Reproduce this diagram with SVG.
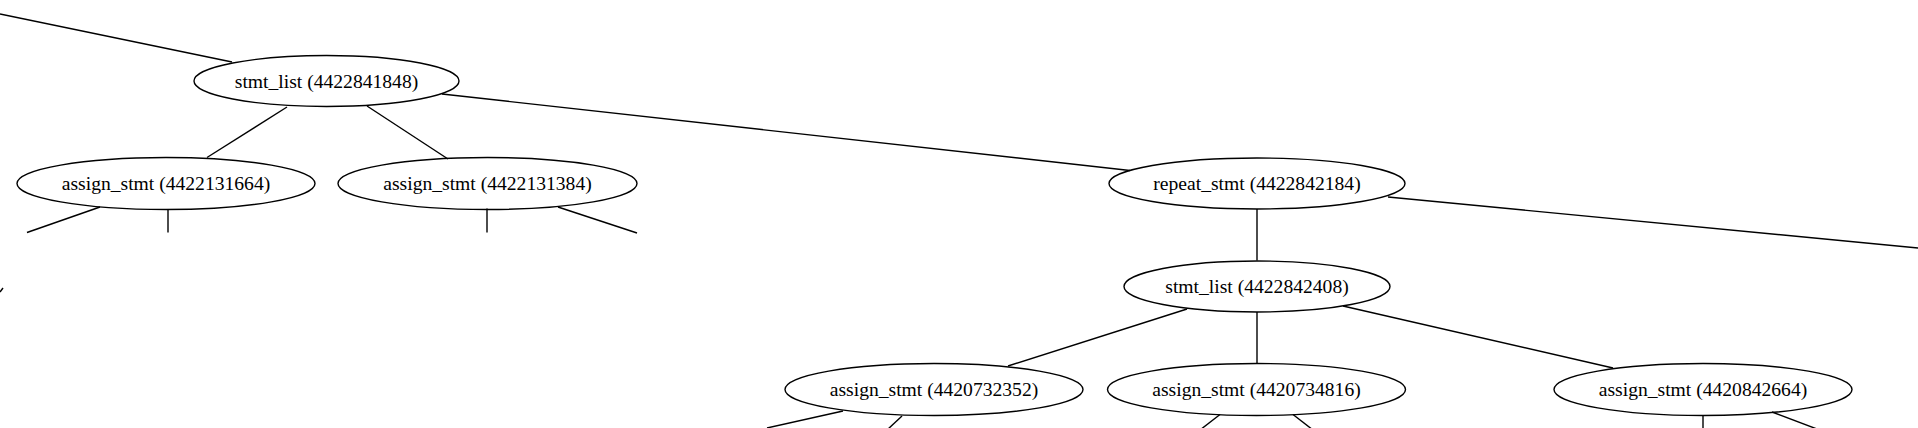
<svg xmlns="http://www.w3.org/2000/svg" width="1918" height="428" viewBox="0 0 1918 428">
<style>
.n ellipse{fill:none;stroke:#000;stroke-width:1.4}
.n text{font-family:"Liberation Serif","Times New Roman",serif;font-size:19.6px;fill:#000;text-anchor:middle}
.e line{stroke:#000;stroke-width:1.4;fill:none}
</style>
<rect width="1918" height="428" fill="#fff"/>
<g id="edges" class="e">
<line x1="0" y1="14" x2="232" y2="62"/>
<line x1="287" y1="107" x2="207" y2="157.5"/>
<line x1="367" y1="106" x2="448" y2="159"/>
<line x1="442" y1="94" x2="1130" y2="170.5"/>
<line x1="100" y1="207" x2="27" y2="232.5"/>
<line x1="168" y1="210" x2="168" y2="232.5"/>
<line x1="487" y1="208.5" x2="487" y2="232.5"/>
<line x1="558" y1="207" x2="637" y2="233"/>
<line x1="0" y1="292" x2="3" y2="288"/>
<line x1="1257" y1="209" x2="1257" y2="260.5"/>
<line x1="1388" y1="197" x2="1918" y2="248"/>
<line x1="1187" y1="309" x2="1008" y2="366"/>
<line x1="1257" y1="312" x2="1257" y2="363.5"/>
<line x1="1343" y1="306" x2="1613" y2="368"/>
<line x1="843" y1="411" x2="767" y2="428"/>
<line x1="902" y1="416" x2="887" y2="430"/>
<line x1="1220" y1="414.5" x2="1200" y2="430"/>
<line x1="1293" y1="414.5" x2="1313" y2="430"/>
<line x1="1703" y1="415.5" x2="1703" y2="430"/>
<line x1="1772" y1="412" x2="1817" y2="429"/>
</g>
<g id="stmt_list_4422841848" class="n"><ellipse cx="326.5" cy="81" rx="132.5" ry="25.5"/><text x="326.5" y="87.5">stmt_list (4422841848)</text></g>
<g id="assign_stmt_4422131664" class="n"><ellipse cx="166" cy="183.5" rx="149" ry="26"/><text x="166" y="190">assign_stmt (4422131664)</text></g>
<g id="assign_stmt_4422131384" class="n"><ellipse cx="487.5" cy="183.5" rx="149.5" ry="26"/><text x="487.5" y="190">assign_stmt (4422131384)</text></g>
<g id="repeat_stmt_4422842184" class="n"><ellipse cx="1257" cy="183.5" rx="148" ry="25.5"/><text x="1257" y="190">repeat_stmt (4422842184)</text></g>
<g id="stmt_list_4422842408" class="n"><ellipse cx="1257" cy="286.5" rx="133" ry="25.5"/><text x="1257" y="293">stmt_list (4422842408)</text></g>
<g id="assign_stmt_4420732352" class="n"><ellipse cx="934" cy="389.5" rx="149" ry="26"/><text x="934" y="396">assign_stmt (4420732352)</text></g>
<g id="assign_stmt_4420734816" class="n"><ellipse cx="1256.5" cy="389.5" rx="149" ry="26"/><text x="1256.5" y="396">assign_stmt (4420734816)</text></g>
<g id="assign_stmt_4420842664" class="n"><ellipse cx="1703" cy="389.5" rx="149" ry="26"/><text x="1703" y="396">assign_stmt (4420842664)</text></g>
</svg>
